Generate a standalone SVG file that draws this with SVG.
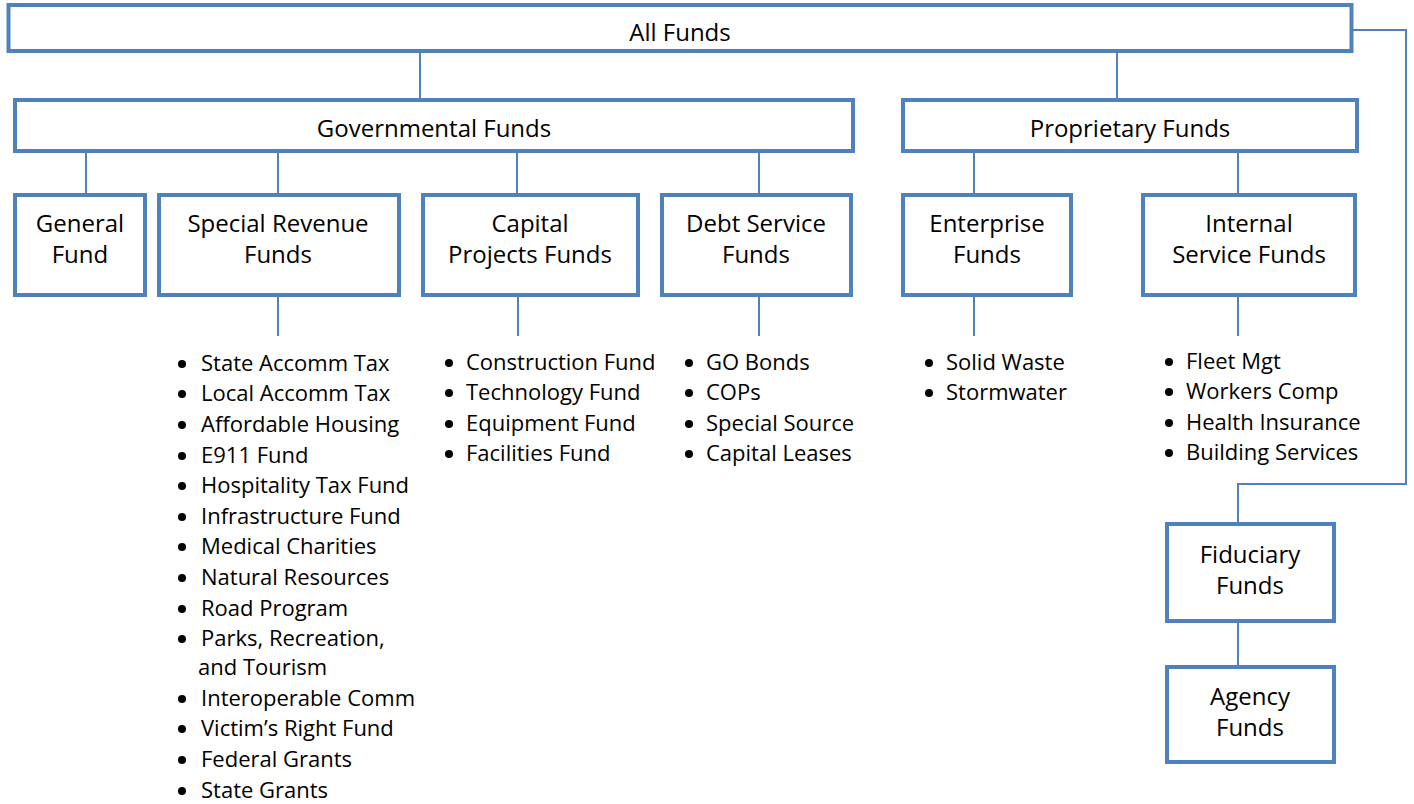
<svg xmlns="http://www.w3.org/2000/svg" width="1414" height="804" viewBox="0 0 1414 804">
<style>
.box{fill:#fff;stroke:#4F81BD;stroke-width:4}
.con{fill:none;stroke:#4F81BD;stroke-width:2}
.bt{font-family:"Open Sans","Noto Sans",sans-serif;font-size:24px;fill:#000;text-anchor:middle}
.li{font-family:"Open Sans","Noto Sans",sans-serif;font-size:22px;fill:#000}
.dot{fill:#000}
</style>
<defs><circle id="b" r="4"/></defs>
<rect width="1414" height="804" fill="#fff"/>
<g id="connectors">
<path class="con" d="M420 53V98M1117 53V98"/>
<path class="con" d="M86 152V193M278 152V193M517 152V193M759 152V193M974 152V193M1238 152V193"/>
<path class="con" d="M278 297V336M518 297V336M759 297V336M974 297V336M1238 297V336"/>
<path class="con" d="M1353 30H1406V484H1238V522"/>
<path class="con" d="M1238 623V665"/>
</g>
<g id="all-funds"><rect class="box" x="8.5" y="5" width="1343" height="46"/><text class="bt" x="680" y="41">All Funds</text></g>
<g id="governmental-funds"><rect class="box" x="15" y="100" width="838" height="51"/><text class="bt" x="434" y="137">Governmental Funds</text></g>
<g id="proprietary-funds"><rect class="box" x="903" y="100" width="454" height="51"/><text class="bt" x="1130" y="137">Proprietary Funds</text></g>
<g id="general-fund"><rect class="box" x="15" y="195" width="130" height="100"/><text class="bt" x="80" y="232">General</text><text class="bt" x="80" y="263">Fund</text></g>
<g id="special-revenue-funds"><rect class="box" x="159" y="195" width="240" height="100"/><text class="bt" x="278" y="232">Special Revenue</text><text class="bt" x="278" y="263">Funds</text></g>
<g id="capital-projects-funds"><rect class="box" x="423" y="195" width="215" height="100"/><text class="bt" x="530" y="232">Capital</text><text class="bt" x="530" y="263">Projects Funds</text></g>
<g id="debt-service-funds"><rect class="box" x="662" y="195" width="189" height="100"/><text class="bt" x="756" y="232">Debt Service</text><text class="bt" x="756" y="263">Funds</text></g>
<g id="enterprise-funds"><rect class="box" x="903" y="195" width="168" height="100"/><text class="bt" x="987" y="232">Enterprise</text><text class="bt" x="987" y="263">Funds</text></g>
<g id="internal-service-funds"><rect class="box" x="1143" y="195" width="212" height="100"/><text class="bt" x="1249" y="232">Internal</text><text class="bt" x="1249" y="263">Service Funds</text></g>
<g id="fiduciary-funds"><rect class="box" x="1167" y="524" width="167" height="97"/><text class="bt" x="1250" y="563">Fiduciary</text><text class="bt" x="1250" y="594">Funds</text></g>
<g id="agency-funds"><rect class="box" x="1167" y="667" width="167" height="95"/><text class="bt" x="1250" y="705">Agency</text><text class="bt" x="1250" y="736">Funds</text></g>
<g id="special-revenue-list">
<g class="dot"><use href="#b" x="182" y="364"/><use href="#b" x="182" y="394"/><use href="#b" x="182" y="425"/><use href="#b" x="182" y="456"/><use href="#b" x="182" y="486"/><use href="#b" x="182" y="517"/><use href="#b" x="182" y="547"/><use href="#b" x="182" y="578"/><use href="#b" x="182" y="609"/><use href="#b" x="182" y="639"/><use href="#b" x="182" y="699"/><use href="#b" x="182" y="729"/><use href="#b" x="182" y="760"/><use href="#b" x="182" y="791"/></g>
<text class="li" x="201" y="371">State Accomm Tax</text>
<text class="li" x="201" y="401">Local Accomm Tax</text>
<text class="li" x="201" y="432">Affordable Housing</text>
<text class="li" x="201" y="463">E911 Fund</text>
<text class="li" x="201" y="493">Hospitality Tax Fund</text>
<text class="li" x="201" y="524">Infrastructure Fund</text>
<text class="li" x="201" y="554">Medical Charities</text>
<text class="li" x="201" y="585">Natural Resources</text>
<text class="li" x="201" y="616">Road Program</text>
<text class="li" x="201" y="646">Parks, Recreation,</text>
<text class="li" x="198" y="675">and Tourism</text>
<text class="li" x="201" y="706">Interoperable Comm</text>
<text class="li" x="201" y="736">Victim’s Right Fund</text>
<text class="li" x="201" y="767">Federal Grants</text>
<text class="li" x="201" y="798">State Grants</text>
</g>
<g id="capital-projects-list">
<g class="dot"><use href="#b" x="449" y="363"/><use href="#b" x="449" y="393"/><use href="#b" x="449" y="424"/><use href="#b" x="449" y="454"/></g>
<text class="li" x="466" y="370">Construction Fund</text>
<text class="li" x="466" y="400">Technology Fund</text>
<text class="li" x="466" y="431">Equipment Fund</text>
<text class="li" x="466" y="461">Facilities Fund</text>
</g>
<g id="debt-service-list">
<g class="dot"><use href="#b" x="689" y="363"/><use href="#b" x="689" y="393"/><use href="#b" x="689" y="424"/><use href="#b" x="689" y="454"/></g>
<text class="li" x="706" y="370">GO Bonds</text>
<text class="li" x="706" y="400">COPs</text>
<text class="li" x="706" y="431">Special Source</text>
<text class="li" x="706" y="461">Capital Leases</text>
</g>
<g id="enterprise-list">
<g class="dot"><use href="#b" x="929" y="363"/><use href="#b" x="929" y="393"/></g>
<text class="li" x="946" y="370">Solid Waste</text>
<text class="li" x="946" y="400">Stormwater</text>
</g>
<g id="internal-service-list">
<g class="dot"><use href="#b" x="1169" y="362"/><use href="#b" x="1169" y="392"/><use href="#b" x="1169" y="423"/><use href="#b" x="1169" y="453"/></g>
<text class="li" x="1186" y="369">Fleet Mgt</text>
<text class="li" x="1186" y="399">Workers Comp</text>
<text class="li" x="1186" y="430">Health Insurance</text>
<text class="li" x="1186" y="460">Building Services</text>
</g>
</svg>
